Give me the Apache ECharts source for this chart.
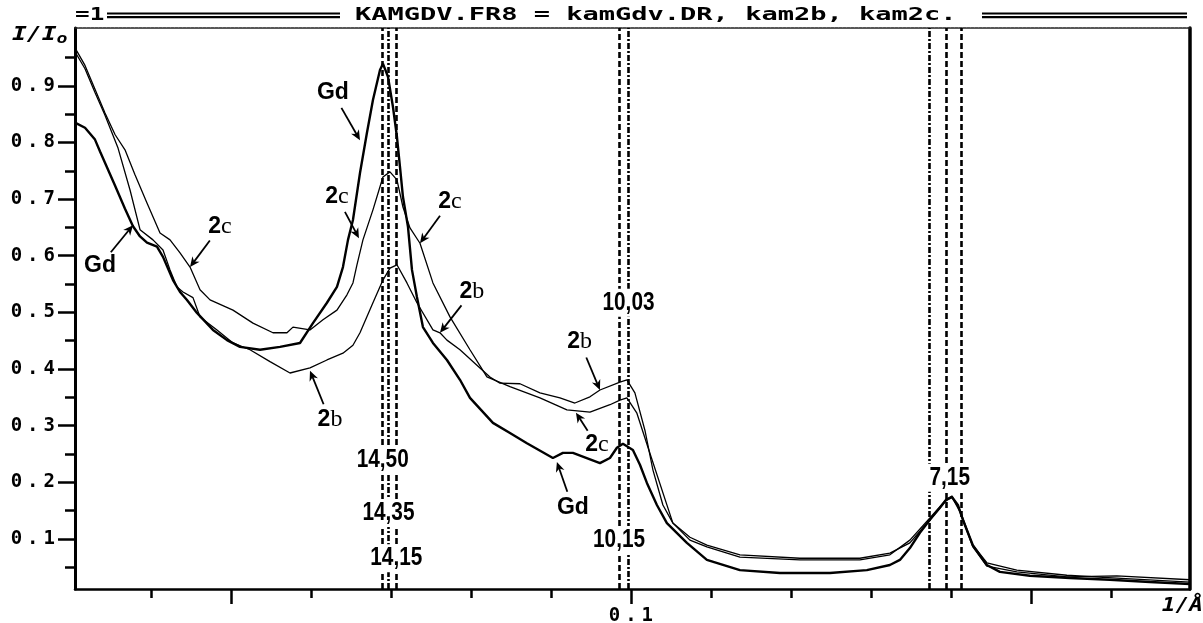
<!DOCTYPE html>
<html>
<head>
<meta charset="utf-8">
<title>KAMGDV.FR8</title>
<script src="https://cdn.jsdelivr.net/npm/echarts@6.0.0/dist/echarts.min.js"></script>
<style>
  html, body { margin: 0; padding: 0; background: #fff; }
  #main { width: 1203px; height: 623px; }
</style>
</head>
<body>
<div id="main"></div>
<script>
// curves: [1/d (1/Å), I/I0]
var gdPoints = [
  [0.0305, 0.835], [0.03175, 0.826], [0.0330, 0.805], [0.03363, 0.784], [0.0355, 0.724],
  [0.03675, 0.683], [0.03775, 0.652], [0.03863, 0.634], [0.0395, 0.623], [0.04075, 0.616],
  [0.0415, 0.598], [0.04275, 0.557], [0.04363, 0.536], [0.0445, 0.522], [0.04575, 0.499],
  [0.04775, 0.469], [0.0495, 0.451], [0.05113, 0.439], [0.05363, 0.434], [0.05613, 0.439],
  [0.05863, 0.446], [0.06025, 0.481], [0.0620, 0.517], [0.06325, 0.545], [0.0640, 0.580],
  [0.06463, 0.628], [0.06525, 0.663], [0.06613, 0.746], [0.0670, 0.817], [0.06775, 0.875],
  [0.06863, 0.928], [0.0690, 0.939], [0.06963, 0.916], [0.07025, 0.863], [0.07075, 0.810],
  [0.07113, 0.757], [0.0715, 0.704], [0.07213, 0.651], [0.07263, 0.575], [0.07325, 0.527],
  [0.0740, 0.474], [0.07525, 0.446], [0.0770, 0.416], [0.07863, 0.381], [0.07988, 0.349],
  [0.08275, 0.305], [0.08488, 0.287], [0.0870, 0.269], [0.09025, 0.243], [0.0915, 0.252],
  [0.09275, 0.252], [0.09613, 0.234], [0.09738, 0.243], [0.09825, 0.261], [0.0990, 0.268],
  [0.10025, 0.257], [0.10113, 0.231], [0.1020, 0.199], [0.10325, 0.160], [0.1045, 0.128],
  [0.1070, 0.093], [0.1095, 0.063], [0.11363, 0.045], [0.11863, 0.040], [0.12488, 0.040],
  [0.1295, 0.045], [0.13238, 0.054], [0.13363, 0.063], [0.13488, 0.084], [0.13613, 0.111],
  [0.13738, 0.134], [0.13863, 0.155], [0.13938, 0.169], [0.14013, 0.174], [0.14088, 0.160],
  [0.1415, 0.134], [0.14275, 0.089], [0.1445, 0.054], [0.14613, 0.042], [0.14988, 0.035],
  [0.15488, 0.031], [0.15988, 0.028], [0.16488, 0.024], [0.1699, 0.0205]
];
var b2Points = [
  [0.0305, 0.960], [0.03175, 0.930], [0.0330, 0.888], [0.03425, 0.848], [0.03588, 0.790],
  [0.03738, 0.716], [0.03863, 0.646], [0.04025, 0.628], [0.0415, 0.610], [0.04238, 0.575],
  [0.04325, 0.545], [0.0440, 0.536], [0.04525, 0.526], [0.04613, 0.492], [0.04825, 0.469],
  [0.05025, 0.446], [0.05238, 0.434], [0.05488, 0.413], [0.05738, 0.393], [0.05988, 0.402],
  [0.0620, 0.416], [0.0640, 0.428], [0.06525, 0.442], [0.06613, 0.464], [0.06775, 0.517],
  [0.0690, 0.557], [0.06988, 0.578], [0.07075, 0.584], [0.0720, 0.552], [0.07325, 0.517],
  [0.07525, 0.469], [0.07613, 0.464], [0.0770, 0.451], [0.07863, 0.434], [0.08113, 0.402],
  [0.08238, 0.386], [0.08363, 0.375], [0.08613, 0.374], [0.08863, 0.358], [0.09113, 0.349],
  [0.0930, 0.340], [0.09488, 0.351], [0.09613, 0.363], [0.09863, 0.377], [0.0995, 0.381],
  [0.1005, 0.358], [0.10175, 0.292], [0.10275, 0.222], [0.1040, 0.160], [0.10525, 0.128],
  [0.10738, 0.103], [0.1095, 0.089], [0.11363, 0.072], [0.12113, 0.066], [0.12863, 0.066],
  [0.13238, 0.075], [0.13488, 0.093], [0.13738, 0.134], [0.13938, 0.167], [0.14013, 0.174],
  [0.14113, 0.148], [0.14275, 0.086], [0.1445, 0.052], [0.14825, 0.042], [0.1545, 0.033],
  [0.16075, 0.035], [0.1699, 0.028]
];
var c2Points = [
  [0.0305, 0.967], [0.03175, 0.936], [0.0330, 0.894], [0.03425, 0.852], [0.0355, 0.814],
  [0.03675, 0.787], [0.0380, 0.743], [0.0395, 0.693], [0.04113, 0.640], [0.04238, 0.628],
  [0.04363, 0.605], [0.04488, 0.580], [0.04613, 0.540], [0.04738, 0.522], [0.05025, 0.504],
  [0.05275, 0.481], [0.05525, 0.464], [0.0570, 0.464], [0.05775, 0.474], [0.05988, 0.469],
  [0.0615, 0.487], [0.06325, 0.504], [0.0645, 0.531], [0.06525, 0.552], [0.06575, 0.584],
  [0.0665, 0.628], [0.06775, 0.681], [0.0690, 0.739], [0.06988, 0.748], [0.07075, 0.734],
  [0.0715, 0.686], [0.07238, 0.649], [0.07363, 0.622], [0.07525, 0.552], [0.07738, 0.492],
  [0.07988, 0.434], [0.0820, 0.386], [0.08488, 0.369], [0.08863, 0.349], [0.0920, 0.328],
  [0.09488, 0.324], [0.09738, 0.337], [0.09863, 0.345], [0.0995, 0.349], [0.10075, 0.322],
  [0.10213, 0.262], [0.10525, 0.128], [0.10738, 0.098], [0.1095, 0.086], [0.11363, 0.068],
  [0.12113, 0.063], [0.12863, 0.063], [0.13238, 0.072], [0.13488, 0.098], [0.13738, 0.137],
  [0.13938, 0.169], [0.14013, 0.176], [0.14113, 0.151], [0.14275, 0.089], [0.1445, 0.058],
  [0.14825, 0.045], [0.1545, 0.036], [0.16075, 0.031], [0.1699, 0.024]
];

// d-spacings (Å) of the dashed marker lines
var refD = [14.50, 14.35, 14.15, 10.15, 10.03, 7.28, 7.17, 7.08];
var refDash = ['d', 'dd', 'd', 'd', 'dd', 'dd', 'd', 'd'];

// d-spacing labels and the height (I/I0) where each is written
var peakText = ['14,50', '14,35', '14,15', '10,03', '10,15', '7,15'];
var peakD = [14.50, 14.35, 14.15, 10.03, 10.15, 7.15];
var peakY = [0.240, 0.146, 0.066, 0.517, 0.098, 0.208];

// curve notes: [label x, label y, arrow tip x, arrow tip y]
var noteText = ['Gd', '2c', 'Gd', '2c', '2c', '2b', '2b', '2b', '2c', 'Gd'];
var notePos = [
  [0.03363, 0.583, 0.03775, 0.654],
  [0.04863, 0.651, 0.04488, 0.580],
  [0.06275, 0.887, 0.06613, 0.804],
  [0.06325, 0.704, 0.0660, 0.631],
  [0.07738, 0.695, 0.07363, 0.622],
  [0.08013, 0.536, 0.07613, 0.464],
  [0.06238, 0.310, 0.05988, 0.397],
  [0.0936, 0.448, 0.09613, 0.363],
  [0.09575, 0.266, 0.09313, 0.323],
  [0.09275, 0.155, 0.09075, 0.236]
];

// axis ticks
var xLongTicks = [0.05, 0.1, 0.15];
var xShortTicks = [0.04, 0.06, 0.07, 0.08, 0.09, 0.11, 0.12, 0.13, 0.14, 0.16];
var xLabels = [0.1];
var yMajorTicks = [0.1, 0.2, 0.3, 0.4, 0.5, 0.6, 0.7, 0.8, 0.9];
var yMinorTicks = [0.05, 0.15, 0.25, 0.35, 0.45, 0.55, 0.65, 0.75, 0.85, 0.95];

var xMin = 0.0305, xMax = 0.1699, yMin = 0.0117, yMax = 1.002;
var MONO = '"DejaVu Sans Mono", monospace';

function monoLabel(v) {
  var s = v.toFixed(1);
  return '{d|' + s.charAt(0) + '}{p|.}{d|' + s.charAt(2) + '}';
}
var monoRich = {
  d: { fontFamily: MONO, fontWeight: 'bold', fontSize: 19, color: '#000' },
  p: { fontFamily: MONO, fontWeight: 'bold', fontSize: 19, color: '#000', padding: [0, 5, 0, 5] }
};

function noteRich(t) {
  if (t === 'Gd') return '{g|Gd}';
  return '{n|' + t.charAt(0) + '}{l|' + t.charAt(1) + '}';
}

function renderPeakLabel(params, api) {
  var p = api.coord([1 / peakD[params.dataIndex], peakY[params.dataIndex]]);
  return {
    type: 'text', x: p[0], y: p[1], scaleX: 0.8,
    style: {
      text: peakText[params.dataIndex],
      font: 'bold 26px "Liberation Sans", Arial, sans-serif',
      align: 'center', verticalAlign: 'middle', fill: '#000',
      backgroundColor: '#fff', padding: [1, 2, 1, 2]
    }
  };
}

function renderNote(params, api) {
  var n = notePos[params.dataIndex];
  var lp = api.coord([n[0], n[1]]);
  var tp = api.coord([n[2], n[3]]);
  var dx = tp[0] - lp[0], dy = tp[1] - lp[1];
  var len = Math.sqrt(dx * dx + dy * dy);
  var ux = dx / len, uy = dy / len;
  var sx = lp[0] + ux * 17, sy = lp[1] + uy * 17;
  var hx = tp[0] - ux * 10, hy = tp[1] - uy * 10;
  var nx = -uy, ny = ux;
  return {
    type: 'group',
    children: [
      {
        type: 'text', x: lp[0], y: lp[1],
        style: {
          text: noteRich(noteText[params.dataIndex]),
          align: 'center', verticalAlign: 'middle',
          rich: {
            g: { font: 'bold 23px "Liberation Sans", Arial, sans-serif', fill: '#000' },
            n: { font: 'bold 23px "Liberation Sans", Arial, sans-serif', fill: '#000' },
            l: { font: '24px "Liberation Serif", serif', fill: '#000' }
          }
        }
      },
      {
        type: 'line',
        shape: { x1: sx, y1: sy, x2: tp[0] - ux * 4, y2: tp[1] - uy * 4 },
        style: { stroke: '#000', lineWidth: 1.8 }
      },
      {
        type: 'polygon',
        shape: {
          points: [
            [tp[0], tp[1]],
            [hx + nx * 4.5, hy + ny * 4.5],
            [hx + ux * 3, hy + uy * 3],
            [hx - nx * 4.5, hy - ny * 4.5]
          ]
        },
        style: { fill: '#000' }
      }
    ]
  };
}

var chart = echarts.init(document.getElementById('main'), null, { renderer: 'canvas' });

var option = {
  animation: false,
  backgroundColor: '#fff',
  grid: { left: 75, right: 13, top: 28, bottom: 34, containLabel: false, outerBoundsMode: 'none' },
  xAxis: [
    {
      type: 'value', min: xMin, max: xMax, position: 'bottom',
      axisLine: { show: true, onZero: false, lineStyle: { color: '#000', width: 2.5 } },
      axisTick: { show: true, customValues: xLongTicks, length: 15, lineStyle: { color: '#000', width: 2.5 } },
      axisLabel: { show: true, customValues: xLabels, margin: 18, formatter: monoLabel, rich: monoRich },
      splitLine: { show: false }
    },
    {
      type: 'value', min: xMin, max: xMax, position: 'bottom',
      axisLine: { show: false, onZero: false },
      axisTick: { show: true, customValues: xShortTicks, length: 9, lineStyle: { color: '#000', width: 2.5 } },
      axisLabel: { show: false },
      splitLine: { show: false }
    },
    {
      type: 'value', min: xMin, max: xMax, position: 'top',
      axisLine: { show: true, onZero: false, lineStyle: { color: '#222', width: 1.5, type: [3, 1] } },
      axisTick: { show: false }, axisLabel: { show: false }, splitLine: { show: false }
    }
  ],
  yAxis: [
    {
      type: 'value', min: yMin, max: yMax, position: 'left',
      axisLine: { show: true, onZero: false, lineStyle: { color: '#000', width: 3 } },
      axisTick: { show: true, customValues: yMajorTicks, length: 17, lineStyle: { color: '#000', width: 2.5 } },
      axisLabel: { show: true, customValues: yMajorTicks, margin: 20, formatter: monoLabel, rich: monoRich },
      splitLine: { show: false }
    },
    {
      type: 'value', min: yMin, max: yMax, position: 'left',
      axisLine: { show: false, onZero: false },
      axisTick: { show: true, customValues: yMinorTicks, length: 10, lineStyle: { color: '#000', width: 2.5 } },
      axisLabel: { show: false }, splitLine: { show: false }
    },
    {
      type: 'value', min: yMin, max: yMax, position: 'right',
      axisLine: { show: true, onZero: false, lineStyle: { color: '#000', width: 3.5 } },
      axisTick: { show: false }, axisLabel: { show: false }, splitLine: { show: false }
    }
  ],
  graphic: [
    {
      type: 'text', x: 75, y: 15, scaleX: 1.35,
      style: { text: '=1', font: 'bold 18px ' + MONO, fill: '#000', verticalAlign: 'middle' }
    },
    { type: 'rect', shape: { x: 107, y: 12.5, width: 233, height: 2 }, style: { fill: '#000' } },
    { type: 'rect', shape: { x: 107, y: 16, width: 233, height: 2.2 }, style: { fill: '#000' } },
    {
      type: 'text', x: 355, y: 15, scaleX: 1.5,
      style: { text: 'KAMGDV.FR8 = kamGdv.DR, kam2b, kam2c.', font: 'bold 18px ' + MONO, fill: '#000', verticalAlign: 'middle' }
    },
    { type: 'rect', shape: { x: 982, y: 12.5, width: 205, height: 2 }, style: { fill: '#000' } },
    { type: 'rect', shape: { x: 982, y: 16, width: 205, height: 2.2 }, style: { fill: '#000' } },
    {
      type: 'text', x: 12, y: 35, scaleX: 1.3,
      style: {
        text: '{a|I/I}{b|o}', verticalAlign: 'middle',
        rich: {
          a: { font: 'italic bold 19px ' + MONO, fill: '#000' },
          b: { font: 'italic bold 14px ' + MONO, fill: '#000', padding: [8, 0, 0, 0] }
        }
      }
    },
    {
      type: 'text', x: 1203, y: 606, scaleX: 1.2,
      style: { text: '1/Å', font: 'italic bold 19px ' + MONO, fill: '#000', align: 'right', verticalAlign: 'middle' }
    }
  ],
  series: [
    {
      name: 'Gd', type: 'line', data: gdPoints, showSymbol: false, z: 3,
      lineStyle: { color: '#000', width: 2.4 },
      markLine: {
        silent: true, symbol: 'none', animation: false, precision: 8,
        label: { show: false },
        data: refD.map(function (d, i) {
          return {
            xAxis: 1 / d,
            lineStyle: { color: '#000', width: 2.6, type: refDash[i] === 'd' ? [6, 3] : [6, 2, 2, 2] }
          };
        })
      }
    },
    {
      name: '2b', type: 'line', data: b2Points, showSymbol: false, z: 3,
      lineStyle: { color: '#000', width: 1.3 }
    },
    {
      name: '2c', type: 'line', data: c2Points, showSymbol: false, z: 3,
      lineStyle: { color: '#000', width: 1.3 }
    },
    {
      type: 'custom', name: 'peaks', z: 5, silent: true,
      data: peakD.map(function (d, i) { return [1 / d, peakY[i]]; }),
      renderItem: renderPeakLabel
    },
    {
      type: 'custom', name: 'notes', z: 6, silent: true,
      data: notePos,
      encode: { x: [0, 2], y: [1, 3] },
      renderItem: renderNote
    }
  ]
};

chart.setOption(option);
</script>
</body>
</html>
